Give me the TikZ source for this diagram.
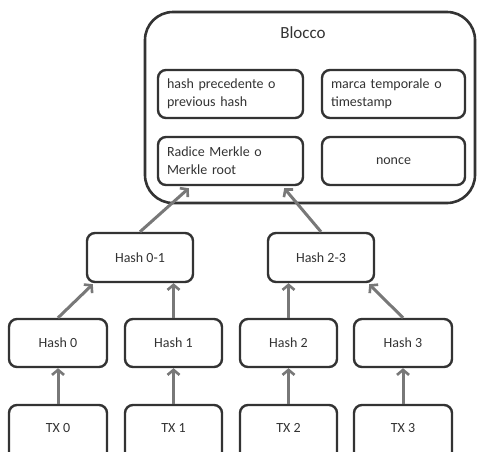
\documentclass[tikz,border=0pt]{standalone}
\usepackage{fontspec}
\setmainfont{Carlito}
\usetikzlibrary{arrows.meta,calc}
\definecolor{edge}{HTML}{333333}
\definecolor{link}{HTML}{787878}
\begin{document}
\begin{tikzpicture}[x=1pt,y=-1pt,
  box/.style={draw=edge,line width=2.4pt,rounded corners=8pt,fill=white,
    text=edge,font=\fontsize{14}{18}\selectfont},
  field/.style={box,minimum width=145pt,minimum height=48pt,align=left,
    text width=127pt},
  hashbox/.style={box,minimum width=98pt,minimum height=48pt},
  label/.style={text=edge,font=\fontsize{14}{18}\selectfont},
  link/.style={draw=link,line width=3pt,
    -{Straight Barb[length=5pt,width=12pt,line width=2.6pt]}}]
\useasboundingbox (0,0) rectangle (477,451);
\clip (0,0) rectangle (477,451);

% block header
\node[draw=edge,line width=2.6pt,rounded corners=28pt,minimum width=330pt,
  minimum height=191pt] (blk) at (310,107.5) {};
\node[text=edge,font=\fontsize{17}{20}\selectfont] (title) at (303,33) {Blocco};
\node[field] (prev) at (230.5,94) {hash precedente o\\previous hash};
\node[field,minimum width=143pt,text width=125pt] (time) at (393.5,94)
  {marca temporale o\\timestamp};
\node[field] (root) at (230.5,161) {Radice Merkle o\\Merkle root};
\node[box,minimum width=143pt,minimum height=48pt] (nonce) at (393.5,161) {nonce};

% Merkle tree
\node[hashbox,minimum width=106pt,minimum height=49pt] (h01) at (140,257.5) {Hash 0-1};
\node[hashbox,minimum width=106pt,minimum height=49pt] (h23) at (321,257.5) {Hash 2-3};
\node[hashbox] (h0) at (58,343) {Hash 0};
\node[hashbox,minimum width=97pt] (h1) at (173.5,343) {Hash 1};
\node[hashbox,minimum width=97pt] (h2) at (288.5,343) {Hash 2};
\node[hashbox] (h3) at (403,343) {Hash 3};

% transactions (boxes run past the lower edge)
\node[hashbox,minimum height=62pt] (tx0) at (58,436) {};
\node[hashbox,minimum width=97pt,minimum height=62pt] (tx1) at (173.5,436) {};
\node[hashbox,minimum width=97pt,minimum height=62pt] (tx2) at (288.5,436) {};
\node[hashbox,minimum height=62pt] (tx3) at (403,436) {};
\node[label] (t0) at (58,428) {TX 0};
\node[label] (t1) at (173.5,428) {TX 1};
\node[label] (t2) at (288.5,428) {TX 2};
\node[label] (t3) at (403,428) {TX 3};

% connectors
\draw[link] (tx0.north) -- (h0.south);
\draw[link] (tx1.north) -- (h1.south);
\draw[link] (tx2.north) -- (h2.south);
\draw[link] (tx3.north) -- (h3.south);
\draw[link] (h0.north) -- ($(h01.south west)+(7,1)$);
\draw[link] (h1.north) -- (h1.north |- h01.south);
\draw[link] (h2.north) -- (h2.north |- h23.south);
\draw[link] (h3.north) -- ($(h23.south east)+(-6,1)$);
\draw[link] (h01.north) -- ($(root.south west)+(32,2)$);
\draw[link] (h23.north) -- ($(root.south east)+(-20,2)$);
\end{tikzpicture}
\end{document}
